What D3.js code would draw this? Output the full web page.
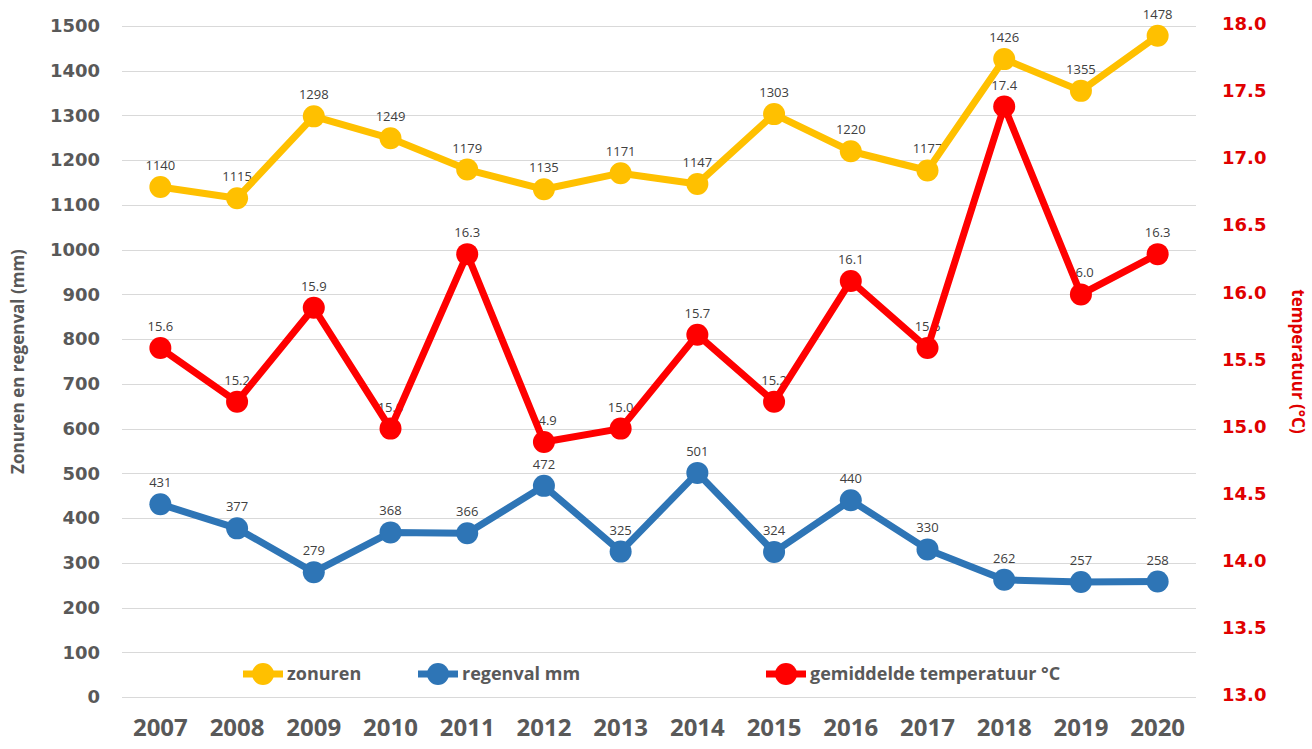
<!DOCTYPE html>
<html>
<head>
<meta charset="utf-8">
<script src="https://cdn.jsdelivr.net/npm/d3@7"></script>
<style>
  body { margin: 0; background: #fff; }
  svg { display: block; }
</style>
</head>
<body>
<script>
// data
const years = ['2007', '2008', '2009', '2010', '2011', '2012', '2013', '2014', '2015', '2016', '2017', '2018', '2019', '2020']
const zonuren = [1140, 1115, 1298, 1249, 1179, 1135, 1171, 1147, 1303, 1220, 1177, 1426, 1355, 1478]
const regenval = [431, 377, 279, 368, 366, 472, 325, 501, 324, 440, 330, 262, 257, 258]
const temperatuur = [15.6, 15.2, 15.9, 15.0, 16.3, 14.9, 15.0, 15.7, 15.2, 16.1, 15.6, 17.4, 16.0, 16.3]
const leftTicks = [0, 100, 200, 300, 400, 500, 600, 700, 800, 900, 1000, 1100, 1200, 1300, 1400, 1500]
const rightTicks = [13.0, 13.5, 14.0, 14.5, 15.0, 15.5, 16.0, 16.5, 17.0, 17.5, 18.0]

const frame = {
  width: 1312,
  height: 749,
  left: 122,
  right: 1196,
  top: 26,
  bottom: 697
}

const svg = d3.select('body').append('svg')
  .attr('width', frame.width)
  .attr('height', frame.height)

const x = d3.scaleBand().domain(years).range([frame.left, frame.right])
const cx = d => x(d) + x.bandwidth() / 2
const yL = d3.scaleLinear().domain([0, 1500]).range([frame.bottom, frame.top])
const yR = d3.scaleLinear().domain([13, 18]).range([frame.bottom, frame.top])

// gridlines
svg.append('g')
  .selectAll('line')
  .data(leftTicks)
  .join('line')
  .attr('x1', frame.left)
  .attr('x2', frame.right)
  .attr('y1', d => Math.round(yL(d)) + 0.5)
  .attr('y2', d => Math.round(yL(d)) + 0.5)
  .attr('stroke', '#d9d9d9')
  .attr('stroke-width', 1)

// left axis
const axL = svg.append('g')
  .attr('transform', `translate(${frame.left - 22},0)`)
  .call(d3.axisLeft(yL).tickValues(leftTicks).tickFormat(d3.format('d')).tickSize(0).tickPadding(0))
axL.select('.domain').remove()
axL.selectAll('text')
  .attr('fill', '#595959')
  .style('font', 'bold 18px "DejaVu Sans"')

// right axis
const axR = svg.append('g')
  .attr('transform', `translate(${frame.right + 26},0)`)
  .call(d3.axisRight(yR).tickValues(rightTicks).tickFormat(d3.format('.1f')).tickSize(0).tickPadding(0))
axR.select('.domain').remove()
axR.selectAll('text')
  .attr('fill', '#e00000')
  .attr('dy', '0.2em')
  .style('font', 'bold 18px "DejaVu Sans"')

// x axis
const axX = svg.append('g')
  .attr('transform', `translate(0,${frame.bottom + 12})`)
  .call(d3.axisBottom(x).tickSize(0).tickPadding(10))
axX.select('.domain').remove()
axX.selectAll('text')
  .attr('fill', '#595959')
  .style('font', 'bold 24px "Open Sans"')

// axis titles
svg.append('text')
  .attr('transform', `translate(24,${(frame.top + frame.bottom) / 2}) rotate(-90)`)
  .attr('text-anchor', 'middle')
  .attr('fill', '#595959')
  .style('font', 'bold 17px "Open Sans"')
  .text('Zonuren en regenval (mm)')

svg.append('text')
  .attr('transform', `translate(1292,${(frame.top + frame.bottom) / 2}) rotate(90)`)
  .attr('text-anchor', 'middle')
  .attr('fill', '#e00000')
  .style('font', 'bold 17px "Open Sans"')
  .text('temperatuur (°C)')

const series = [
  { name: 'zonuren', values: zonuren, y: yL, color: '#ffc000', fmt: d3.format('d') },
  { name: 'regenval mm', values: regenval, y: yL, color: '#2e75b6', fmt: d3.format('d') },
  { name: 'gemiddelde temperatuur °C', values: temperatuur, y: yR, color: '#ff0000', fmt: d3.format('.1f') }
]

// data labels (below the lines)
series.forEach(s => {
  svg.append('g')
    .selectAll('text')
    .data(s.values)
    .join('text')
    .attr('x', (d, i) => cx(years[i]))
    .attr('y', d => s.y(d) - 17)
    .attr('text-anchor', 'middle')
    .attr('fill', '#404040')
    .style('font', '13px "Open Sans"')
    .text(d => s.fmt(d))
})

// lines + markers
series.forEach(s => {
  const line = d3.line()
    .x((d, i) => cx(years[i]))
    .y(d => s.y(d))
  svg.append('path')
    .datum(s.values)
    .attr('d', line)
    .attr('fill', 'none')
    .attr('stroke', s.color)
    .attr('stroke-width', 7)
    .attr('stroke-linejoin', 'round')
  svg.append('g')
    .selectAll('circle')
    .data(s.values)
    .join('circle')
    .attr('cx', (d, i) => cx(years[i]))
    .attr('cy', d => s.y(d))
    .attr('r', 11)
    .attr('fill', s.color)
})

// legend
const legendX = [243, 418, 766]
const legendY = 674
const leg = svg.append('g')
series.forEach((s, i) => {
  const g = leg.append('g').attr('transform', `translate(${legendX[i]},${legendY})`)
  g.append('line')
    .attr('x1', 0).attr('x2', 40)
    .attr('stroke', s.color)
    .attr('stroke-width', 7)
  g.append('circle')
    .attr('cx', 20)
    .attr('r', 11)
    .attr('fill', s.color)
  g.append('text')
    .attr('x', 44)
    .attr('dy', '0.35em')
    .attr('fill', '#595959')
    .style('font', 'bold 18px "Open Sans"')
    .text(s.name)
})
</script>
</body>
</html>
